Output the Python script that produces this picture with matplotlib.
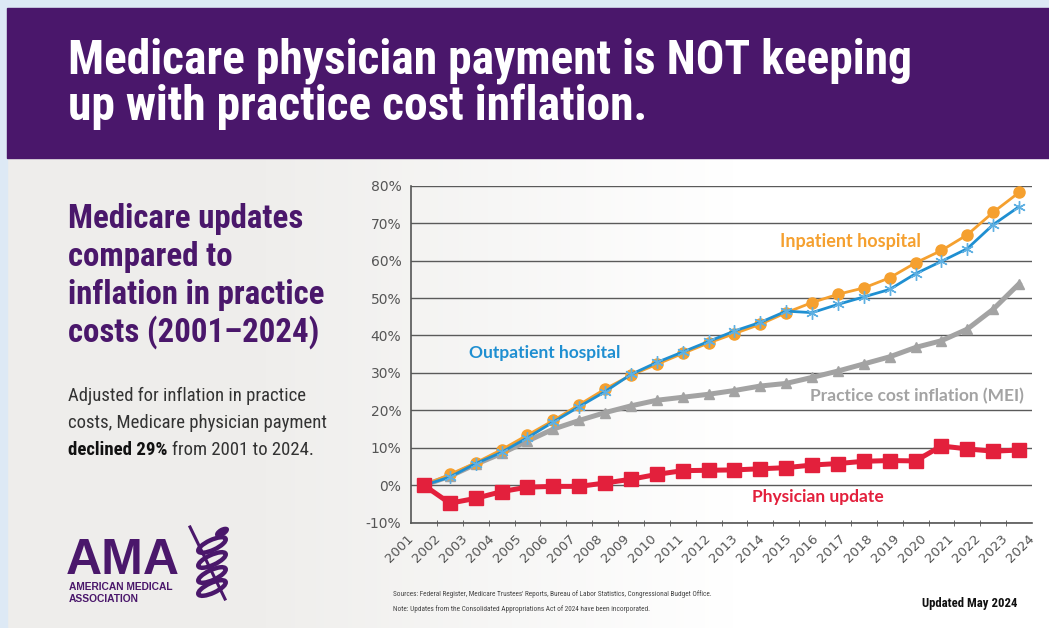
import matplotlib
matplotlib.use("Agg")
import matplotlib.pyplot as plt
import numpy as np
from matplotlib import font_manager as fm
from matplotlib.patches import Rectangle, Ellipse

# ---------------- data ----------------
years = [str(y) for y in range(2001, 2025)]
inpatient = [0, 2.9, 6.0, 9.5, 13.4, 17.3, 21.5, 25.7, 29.4, 32.3, 35.2, 38.0,
             40.5, 43.0, 46.1, 48.8, 51.0, 52.7, 55.4, 59.4, 62.7, 66.9, 72.9, 78.2]
outpatient = [0, 2.2, 5.8, 8.8, 12.7, 16.9, 21.0, 25.0, 29.6, 32.8, 35.6, 38.4,
              41.2, 43.5, 46.5, 46.1, 48.3, 50.3, 52.3, 56.5, 59.8, 63.2, 69.6, 74.4]
mei = [0, 2.4, 5.6, 8.5, 11.8, 15.0, 17.3, 19.4, 21.2, 22.7, 23.5, 24.3,
       25.3, 26.5, 27.2, 28.8, 30.5, 32.4, 34.3, 36.8, 38.6, 41.7, 47.0, 53.8]
physician = [0, -4.8, -3.5, -1.7, -0.5, -0.3, -0.3, 0.6, 1.6, 2.9, 3.9, 4.0,
             4.1, 4.4, 4.7, 5.4, 5.8, 6.4, 6.6, 6.5, 10.5, 9.7, 9.1, 9.4]
yticks = [-10, 0, 10, 20, 30, 40, 50, 60, 70, 80]

# ---------------- fonts ----------------
names = {f.name for f in fm.fontManager.ttflist}
NARROW = next((n for n in ['Liberation Sans Narrow', 'Roboto Condensed',
                           'Open Sans Condensed', 'Lato', 'Roboto']
               if n in names), 'DejaVu Sans')
SEMI = 'Lato' if 'Lato' in names else 'DejaVu Sans'

PURPLE = '#4a176b'
W, H = 1049, 628
fig = plt.figure(figsize=(W / 100, H / 100), dpi=100)
renderer = fig.canvas.get_renderer()
bg = fig.add_axes([0, 0, 1, 1])
bg.set_xlim(0, W)
bg.set_ylim(H, 0)
bg.axis('off')


def fit(t, width):
    bb = t.get_window_extent(renderer)
    t.set_fontsize(t.get_fontsize() * width / bb.width)
    return t.get_fontsize()


# background gradient (light warm gray -> white)
grad = np.linspace(0, 1, 256)
c0 = np.array([0.937, 0.933, 0.925])
c1 = np.array([1.0, 1.0, 1.0])
t = np.clip((grad - 0.25) / 0.45, 0, 1)[None, :, None]
img = c0 * (1 - t) + c1 * t
bg.imshow(np.repeat(img, 2, axis=0), extent=[0, W, H, 158], aspect='auto', zorder=0)
bg.add_patch(Rectangle((0, 0), W, 8, color='#dde9f5', zorder=1))
bg.add_patch(Rectangle((0, 0), 7, H, color='#dde9f5', zorder=1))
bg.add_patch(Rectangle((7, 8), W - 7, 150, color=PURPLE, zorder=1))

# title
t1 = bg.text(68, 73, 'Medicare physician payment is NOT keeping', color='white',
             fontsize=30, fontweight='bold', va='baseline', ha='left', zorder=3,
             family=NARROW)
fs = fit(t1, 845)
bg.text(68, 120, 'up with practice cost inflation.', color='white',
        fontsize=fs, fontweight='bold', va='baseline', ha='left', zorder=3,
        family=NARROW)

# left heading
heads = ['Medicare updates', 'compared to', 'inflation in practice',
         'costs (2001\u20132024)']
hts = [bg.text(68, 228 + i * 37.8, line, color=PURPLE, fontsize=22,
               fontweight='bold', va='baseline', ha='left', zorder=3, family=NARROW)
       for i, line in enumerate(heads)]
hfs = fit(hts[2], 257)
for h in hts:
    h.set_fontsize(hfs)

# body text
bt = bg.text(68, 401, 'Adjusted for inflation in practice', color='#333333',
             fontsize=13, va='baseline', ha='left', zorder=3, family=NARROW)
b2 = bg.text(68, 428, 'costs, Medicare physician payment', color='#333333',
             fontsize=13, va='baseline', ha='left', zorder=3, family=NARROW)
bfs = fit(b2, 259)
bt.set_fontsize(bfs)
b = bg.text(68, 455, 'declined 29%', color='#111111', fontsize=bfs,
            fontweight='bold', va='baseline', ha='left', zorder=3, family=NARROW)
bb = b.get_window_extent(renderer)
bg.text(bb.x1 + 4, 455, 'from 2001 to 2024.', color='#333333',
        fontsize=bfs, va='baseline', ha='left', zorder=3, family=NARROW)

# AMA logo
bg.text(66, 574, 'AMA', color=PURPLE, fontsize=36, fontweight='bold',
        family='Liberation Sans', va='baseline', ha='left', zorder=3)
bg.text(69, 590, 'AMERICAN MEDICAL', color=PURPLE, fontsize=7.4,
        fontweight='bold', family='Liberation Sans', va='baseline', ha='left', zorder=3)
bg.text(69, 602, 'ASSOCIATION', color=PURPLE, fontsize=7.4,
        fontweight='bold', family='Liberation Sans', va='baseline', ha='left', zorder=3)
bg.plot([190, 225], [527, 599], color=PURPLE, lw=2.2, zorder=3)
for cy in [545, 560, 575, 588]:
    bg.add_patch(Ellipse((212, cy), 30, 10, angle=-25, fill=False,
                         ec=PURPLE, lw=3.2, zorder=3))
bg.add_patch(Ellipse((222, 532), 14, 7, angle=-30, color=PURPLE, zorder=3))

# footnotes
s1 = bg.text(393, 596, "Sources: Federal Register, Medicare Trustees' Reports, Bureau of Labor Statistics, "
             "Congressional Budget Office.", color='#444444', fontsize=6,
             va='baseline', ha='left', zorder=3, family=NARROW)
sfs = fit(s1, 318)
bg.text(393, 611, 'Note: Updates from the Consolidated Appropriations Act of 2024 have been incorporated.',
        color='#444444', fontsize=sfs, va='baseline', ha='left', zorder=3, family=NARROW)
u = bg.text(922, 607, 'Updated May 2024', color='#111111', fontsize=9.5,
            fontweight='bold', va='baseline', ha='left', zorder=3, family=NARROW)
fit(u, 95)

# ---------------- chart ----------------
x0, x1, ytop, ybot = 411, 1032, 185.7, 522.7
ax = fig.add_axes([x0 / W, 1 - ybot / H, (x1 - x0) / W, (ybot - ytop) / H])
ax.patch.set_alpha(0)
n = len(years)
x = np.arange(n)
ax.set_xlim(-0.5, n - 0.5)
ax.set_ylim(-10, 80)
ax.set_yticks(yticks)
ax.set_yticklabels([f'{v}%' for v in yticks], color='#555555', fontsize=10)
ax.tick_params(axis='y', length=0, pad=7)
ax.yaxis.grid(True, color='#5a5a5a', lw=1.0)
ax.set_axisbelow(True)
for s in ['top', 'right']:
    ax.spines[s].set_visible(False)
for s in ['left', 'bottom']:
    ax.spines[s].set_color('#555555')
    ax.spines[s].set_linewidth(1.2)

# x ticks: marks at category boundaries, labels evenly spread
ax.set_xticks(np.arange(n + 1) - 0.5, minor=True)
ax.tick_params(axis='x', which='minor', length=5, direction='inout', color='#555555')
lab_pos = -0.5 + np.arange(n) * n / (n - 1)
ax.set_xticks(lab_pos)
ax.set_xticklabels(years, rotation=45, ha='right', va='center',
                   rotation_mode='anchor', color='#555555', fontsize=9.5)
ax.tick_params(axis='x', which='major', length=0, pad=10)

ax.plot(x, mei, color='#a3a3a3', lw=3.6, marker='^', ms=7, zorder=3)
ax.plot(x, inpatient, color='#f5a02f', lw=2.0, marker='o', ms=8, zorder=4)
ax.plot(x, outpatient, color='#1f8fd1', lw=2.0, marker=(6, 2, 0), ms=9,
        mec='#5fb0e2', mew=1.0, zorder=5)
ax.plot(x, physician, color='#e3203c', lw=3.6, marker='s', ms=10.5, zorder=6)

# series labels
bg.text(850, 241, 'Inpatient hospital', color='#f5a02f', fontsize=13,
        fontweight='bold', ha='center', va='center', zorder=7, family=SEMI)
bg.text(545, 353, 'Outpatient hospital', color='#1f8fd1', fontsize=12.5,
        fontweight='bold', ha='center', va='center', zorder=7, family=SEMI)
bg.text(917, 396, 'Practice cost inflation (MEI)', color='#a3a3a3', fontsize=12.5,
        fontweight='bold', ha='center', va='center', zorder=7, family=SEMI)
bg.text(818, 497, 'Physician update', color='#e3203c', fontsize=12.5,
        fontweight='bold', ha='center', va='center', zorder=7, family=SEMI)

fig.savefig('out.png', dpi=100)
